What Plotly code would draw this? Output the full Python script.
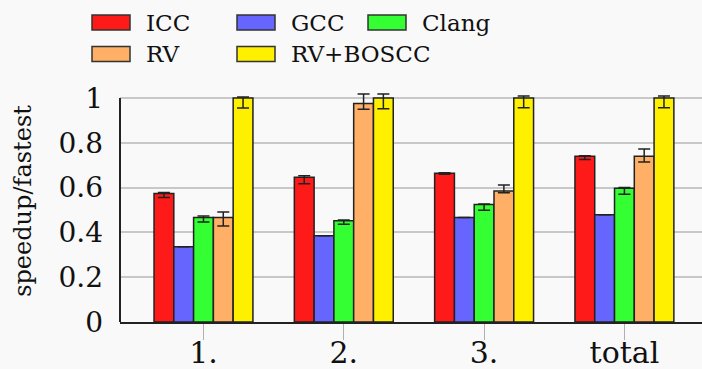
import plotly.graph_objects as go

categories = ["1.", "2.", "3.", "total"]
series_names = ["ICC", "GCC", "Clang", "RV", "RV+BOSCC"]
colors = ["#ff1a1a", "#6666ff", "#33ff33", "#ffb066", "#fff000"]

icc = [0.574, 0.646, 0.664, 0.740]
gcc = [0.336, 0.385, 0.466, 0.479]
clang = [0.466, 0.452, 0.524, 0.597]
rv = [0.466, 0.976, 0.585, 0.740]
boscc = [1.0, 1.0, 1.0, 1.0]

icc_plus = [0.004, 0.007, 0.002, 0.002]
icc_minus = [0.018, 0.029, 0.004, 0.015]
gcc_plus = [0.0, 0.0, 0.0, 0.0]
gcc_minus = [0.0, 0.0, 0.0, 0.0]
clang_plus = [0.007, 0.003, 0.003, 0.003]
clang_minus = [0.02, 0.016, 0.025, 0.027]
rv_plus = [0.025, 0.042, 0.027, 0.032]
rv_minus = [0.037, 0.026, 0.008, 0.026]
boscc_plus = [0.005, 0.018, 0.009, 0.009]
boscc_minus = [0.045, 0.048, 0.043, 0.043]

values = [icc, gcc, clang, rv, boscc]
plus = [icc_plus, gcc_plus, clang_plus, rv_plus, boscc_plus]
minus = [icc_minus, gcc_minus, clang_minus, rv_minus, boscc_minus]

y_ticks = [0, 0.2, 0.4, 0.6, 0.8, 1]
y_tick_labels = ["0", "0.2", "0.4", "0.6", "0.8", "1"]

FONT = "DejaVu Serif"
W, H = 702, 369
ML, MR, MT, MB = 120, 0, 80, 47
PW, PH = W - ML - MR, H - MT - MB

fig = go.Figure()
x_idx = list(range(len(categories)))
for name, col, v, p, m in zip(series_names, colors, values, plus, minus):
    fig.add_trace(go.Bar(
        x=x_idx, y=v, name=name,
        marker=dict(color=col, line=dict(color="#222222", width=1.5)),
        error_y=dict(type="data", symmetric=False, array=p, arrayminus=m,
                     color="#222222", thickness=1.5, width=6),
        showlegend=False,
    ))

fig.update_layout(
    width=W, height=H,
    margin=dict(l=ML, r=MR, t=MT, b=MB, pad=0, autoexpand=False),
    paper_bgcolor="#f9f9f9", plot_bgcolor="#f9f9f9",
    barmode="group", bargap=0.295, bargroupgap=0,
    font=dict(family=FONT, color="#111111"),
    xaxis=dict(
        tickmode="array", tickvals=x_idx, ticktext=categories,
        range=[-0.595, 3.553], showgrid=False, zeroline=False,
        ticks="outside", ticklen=16, tickcolor="#b0b0b0", tickwidth=1,
        tickfont=dict(family=FONT, size=30, color="#111111"),
        showline=True, linecolor="#222222", linewidth=2,
        ticklabelstandoff=-13, automargin=False,
    ),
    yaxis=dict(
        range=[0, PH / 224], tickmode="array", tickvals=y_ticks,
        ticktext=y_tick_labels, showgrid=True, gridcolor="#c8c8c8",
        gridwidth=2, zeroline=False, showline=False, ticks="",
        tickfont=dict(family=FONT, size=28, color="#111111"),
        ticklabelstandoff=16, automargin=False,
        title=dict(text="speedup/fastest", font=dict(family=FONT, size=24, color="#111111"),
                   standoff=20),
    ),
)

# left axis line from 0 to 1
fig.add_shape(type="line", xref="paper", yref="y", x0=0, x1=0, y0=0, y1=1,
              line=dict(color="#222222", width=2), layer="above")

# manual legend
legend_pos = [(92, 22.5), (237, 22.5), (368, 22.5), (92, 54), (237, 54)]
for (px, py), name, col in zip(legend_pos, series_names, colors):
    fig.add_shape(type="rect", xref="paper", yref="paper",
                  x0=(px - ML) / PW, x1=(px + 38 - ML) / PW,
                  y0=1 + (MT - (py + 7.5)) / PH,
                  y1=1 + (MT - (py - 7.5)) / PH,
                  fillcolor=col, line=dict(color="#333333", width=1.5))
    fig.add_annotation(xref="paper", yref="paper",
                       x=(px + 52 - ML) / PW,
                       y=1 + (MT - py) / PH,
                       text=name, showarrow=False, xanchor="left", yanchor="middle",
                       font=dict(family=FONT, size=23, color="#111111"))

fig.write_html("out.html")
